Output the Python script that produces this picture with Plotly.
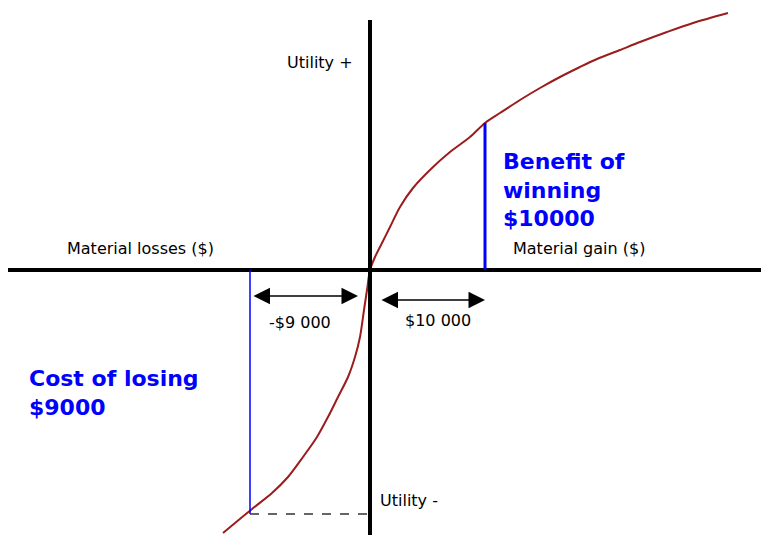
import plotly.graph_objects as go

# utility curve, schematic units (0,0 = no gain / no loss)
curve_x = [-147, -118, -98, -82, -67, -53, -42, -32, -22, -15, -10, -6, -3, 0,
           5, 12, 20, 30, 43, 62, 80, 100, 115, 130, 150, 170, 190, 210,
           227, 250, 270, 297, 323, 358]
curve_y = [-263, -239, -223, -207, -187, -167, -147, -127, -107, -87, -67, -40, -20, 0,
           13, 27, 43, 63, 82, 102, 118, 133, 147, 157, 170, 182, 193, 203,
           211, 220, 228, 238, 247, 257]

loss_x, loss_u = -120, -244
gain_x, gain_u = 115, 147
loss_label = "-$9 000"
gain_label = "$10 000"

RED = "#9b1c1c"
BLUE = "#0000ff"
FONT = "DejaVu Sans"

fig = go.Figure()

fig.add_trace(go.Scatter(x=curve_x, y=curve_y, mode="lines",
                         line=dict(color=RED, width=2, shape="spline", smoothing=0.8),
                         hoverinfo="skip", showlegend=False))

# main axes
fig.add_shape(type="line", x0=-362, x1=420, y0=0, y1=0, line=dict(color="black", width=4))
fig.add_shape(type="line", x0=0, x1=0, y0=250, y1=-275, line=dict(color="black", width=4))

# blue markers for win / loss
fig.add_shape(type="line", x0=gain_x, x1=gain_x, y0=0, y1=gain_u, line=dict(color=BLUE, width=3))
fig.add_shape(type="line", x0=loss_x, x1=loss_x, y0=0, y1=loss_u, line=dict(color=BLUE, width=1.5))
fig.add_shape(type="line", x0=loss_x, x1=-2, y0=loss_u, y1=loss_u,
              line=dict(color="#333333", width=1.5, dash="dash"))

# double arrows
for x0, x1, y in [(loss_x + 2, -12, -26), (10, gain_x, -30)]:
    fig.add_annotation(x=x1, y=y, ax=x0, ay=y, xref="x", yref="y", axref="x", ayref="y",
                       text="", showarrow=True, arrowhead=2, arrowside="end+start",
                       arrowsize=2.2, arrowwidth=1.5, arrowcolor="black", standoff=0, startstandoff=0)

small = dict(family=FONT, size=16, color="black")
fig.add_annotation(x=-15, y=208, text="Utility +", showarrow=False, xanchor="right", font=small)
fig.add_annotation(x=8, y=-230, text="Utility -", showarrow=False, xanchor="left", font=small)
fig.add_annotation(x=-230, y=22, text="Material losses ($)", showarrow=False, font=small)
fig.add_annotation(x=141, y=22, text="Material gain ($)", showarrow=False, xanchor="left", font=small)
fig.add_annotation(x=-70, y=-52, text=loss_label, showarrow=False, font=small)
fig.add_annotation(x=68, y=-50, text=gain_label, showarrow=False, font=small)

big = dict(family=FONT, size=22, color=BLUE)
fig.add_annotation(x=131, y=80, text="<b>Benefit of<br>winning<br>$10000</b>", showarrow=False,
                   xanchor="left", align="left", font=big)
fig.add_annotation(x=-343, y=-123, text="<b>Cost of losing<br>$9000</b>", showarrow=False,
                   xanchor="left", align="left", font=big)

# page body has an 8px margin, so the figure starts at (8, 8)
fig.update_xaxes(range=[-362, 399], visible=False)
fig.update_yaxes(range=[-265, 262], visible=False)
fig.update_layout(width=761, height=527, margin=dict(l=0, r=0, t=0, b=0),
                  plot_bgcolor="white", paper_bgcolor="white", showlegend=False)

fig.write_html("out.html")
